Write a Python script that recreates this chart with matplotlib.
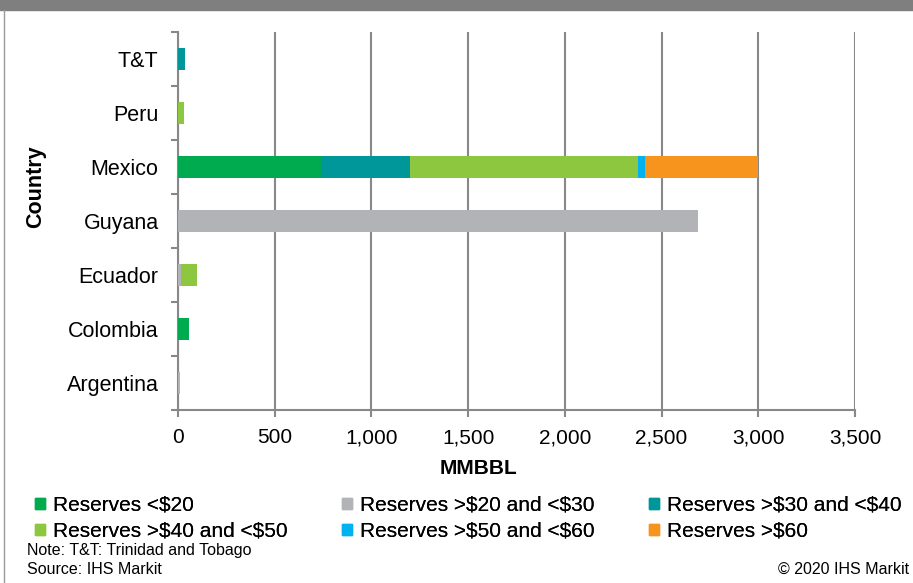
import matplotlib
matplotlib.use("Agg")
import matplotlib.pyplot as plt
from matplotlib.patches import Rectangle
from matplotlib.lines import Line2D
import numpy as np

plt.rcParams['font.family'] = ['Liberation Sans', 'DejaVu Sans']

countries = ["Argentina", "Colombia", "Ecuador", "Guyana", "Mexico", "Peru", "T&T"]
series_names = ["Reserves <\\$20", "Reserves >\\$20 and <\\$30", "Reserves >\\$30 and <\\$40",
                "Reserves >\\$40 and <\\$50", "Reserves >\\$50 and <\\$60", "Reserves >\\$60"]
colors = ["#00aa4f", "#b2b3b6", "#00979a", "#8dc63f", "#00b2ef", "#f7941d"]

lt20 = [0, 58, 0, 0, 740, 0, 0]
r20_30 = [8, 0, 18, 2690, 0, 0, 0]
r30_40 = [0, 0, 0, 0, 460, 0, 36]
r40_50 = [0, 0, 82, 0, 1180, 30, 0]
r50_60 = [0, 0, 0, 0, 32, 0, 0]
gt60 = [0, 0, 0, 0, 585, 0, 0]
series = [lt20, r20_30, r30_40, r40_50, r50_60, gt60]

xticks = [0, 500, 1000, 1500, 2000, 2500, 3000, 3500]
xticklabels = ["0", "500", "1,000", "1,500", "2,000", "2,500", "3,000", "3,500"]

W, H = 913, 583
fig = plt.figure(figsize=(W / 100, H / 100), dpi=100)
ax = fig.add_axes([178 / W, 1 - 410 / H, (855 - 178) / W, (410 - 32) / H])

y = np.arange(len(countries))
left = np.zeros(len(countries))
for vals, c in zip(series, colors):
    ax.barh(y, vals, left=left, height=0.4, color=c, edgecolor='none', zorder=3)
    left += np.array(vals)

ax.set_xlim(0, 3500)
ax.set_ylim(-0.5, len(countries) - 0.5)
ax.set_xticks(xticks)
ax.set_xticklabels(xticklabels, fontsize=15)
ax.set_yticks(y)
ax.set_yticklabels(countries, fontsize=15.5)
ax.tick_params(axis='y', length=0, pad=14)
ax.tick_params(axis='x', length=5, width=1.5, color='#888888', pad=8, direction='out')
# boundary ticks on the category axis
ax.set_yticks(np.arange(-0.5, len(countries)), minor=True)
ax.tick_params(axis='y', which='minor', length=5, width=1.5, color='#888888')
ax.grid(axis='x', color='#888888', linewidth=1.5, zorder=1)
for s in ['top', 'right']:
    ax.spines[s].set_visible(False)
for s in ['left', 'bottom']:
    ax.spines[s].set_color('#888888')
    ax.spines[s].set_linewidth(1.5)
ax.set_xlabel("MMBBL", fontsize=15, fontweight='bold')
ax.set_ylabel("Country", fontsize=15.5, fontweight='bold')
ax.xaxis.set_label_coords((478 - 178) / (855 - 178), -(468 - 410) / (410 - 32))
ax.yaxis.set_label_coords((36 - 178) / (855 - 178), (410 - 187) / (410 - 32))
ax.xaxis.label.set_va('center')
ax.yaxis.label.set_va('center')

# header band and frame line
fig.patches.append(Rectangle((0, 1 - 10 / H), 1, 10 / H, transform=fig.transFigure,
                             color='#7f7f7f', zorder=0))
fig.lines.append(Line2D([4 / W, 4 / W], [0, 1 - 10 / H], transform=fig.transFigure,
                        color='#999999', linewidth=1))

# legend: three columns of two entries each
handles = [Rectangle((0, 0), 1, 1, color=c) for c in colors]
columns = [(0, 3), (1, 4), (2, 5)]
col_x = [35, 342, 649]
for (a, b), cx in zip(columns, col_x):
    leg = fig.legend([handles[a], handles[b]], [series_names[a], series_names[b]],
                     loc='upper left', bbox_to_anchor=(cx / W, 1 - 496 / H),
                     frameon=False, fontsize=15, handlelength=0.48, handleheight=0.48,
                     handletextpad=0.38, labelspacing=0.33, borderpad=0, borderaxespad=0)
    fig.add_artist(leg)

fig.text(27 / W, 1 - 551 / H, "Note: T&T: Trinidad and Tobago", fontsize=11.5, va='center')
fig.text(27 / W, 1 - 570 / H, "Source: IHS Markit", fontsize=11.5, va='center')
fig.text(909 / W, 1 - 569 / H, "© 2020 IHS Markit", fontsize=11.5, ha='right', va='center')

fig.savefig("out.png", dpi=100)
